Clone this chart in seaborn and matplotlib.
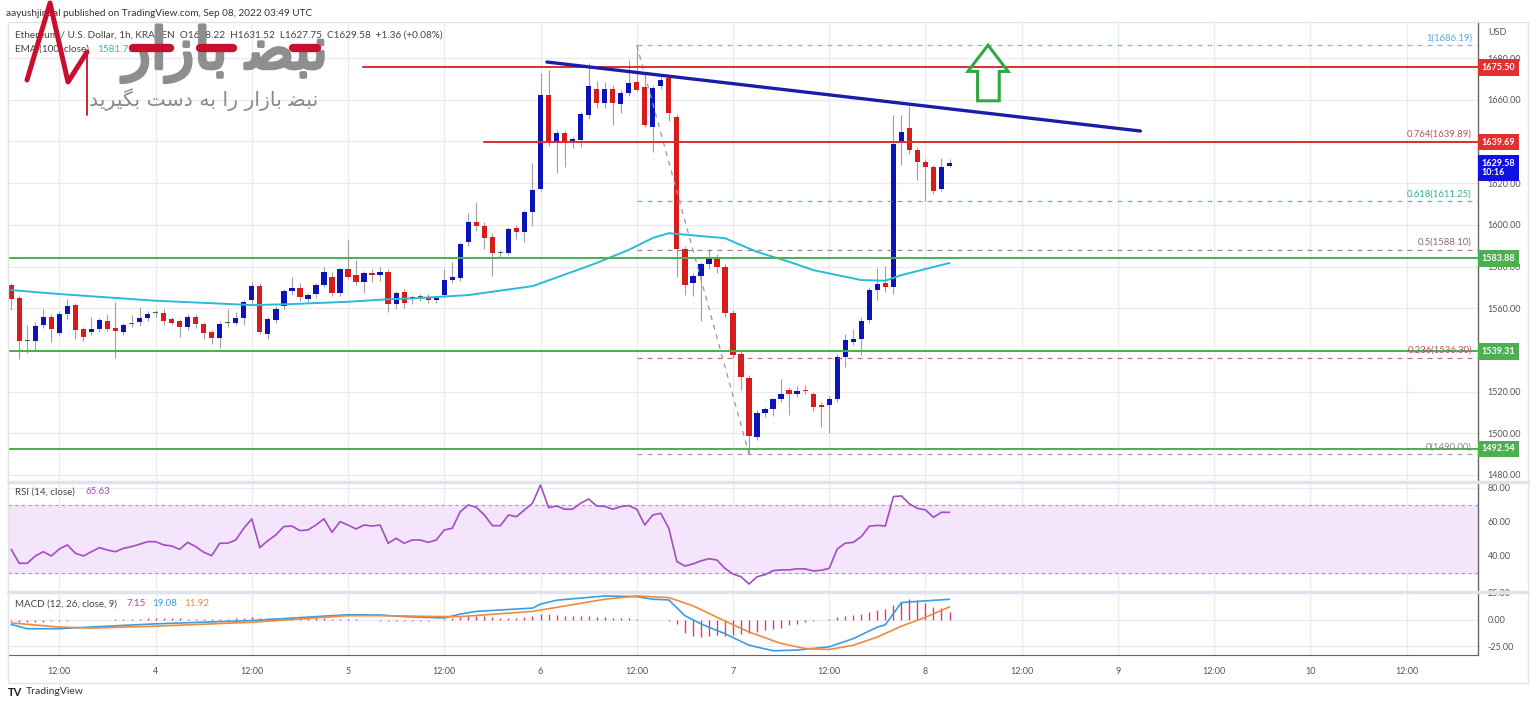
import numpy as np
import matplotlib
matplotlib.use("Agg")
import matplotlib.pyplot as plt
import matplotlib.transforms as mtransforms
import matplotlib.patheffects as pe
from matplotlib.patches import Polygon, Rectangle
from matplotlib.lines import Line2D
import seaborn as sns

W, H = 1536, 708

# ETH/USD 1h candles, Sep 3 06:00 -> Sep 8 03:00 UTC
opens = [1571.1, 1564.8, 1544.3, 1544.3, 1551.8, 1555.9, 1548.1, 1557.0, 1561.5, 1549.9,
         1548.4, 1550.0, 1553.7, 1550.7, 1548.6, 1552.4, 1553.2, 1555.2, 1557.6, 1557.9,
         1555.0, 1553.9, 1550.8, 1555.8, 1552.3, 1548.7, 1545.9, 1552.7, 1553.0, 1555.2,
         1563.9, 1570.6, 1547.6, 1554.3, 1561.0, 1568.2, 1569.5, 1564.6, 1566.7, 1571.1,
         1575.2, 1567.2, 1578.8, 1576.0, 1572.4, 1577.0, 1576.1, 1577.2, 1562.0, 1568.0,
         1564.2, 1565.5, 1565.5, 1564.1, 1566.3, 1573.5, 1574.3, 1591.9, 1601.2, 1599.6,
         1594.3, 1586.6, 1586.6, 1598.3, 1596.7, 1606.3, 1617.2, 1662.3, 1639.9, 1643.9,
         1640.0, 1640.7, 1652.7, 1665.0, 1658.6, 1665.0, 1657.8, 1663.4, 1668.3, 1666.0,
         1647.0, 1666.7, 1670.3, 1651.9, 1588.2, 1572.3, 1575.5, 1581.1, 1584.7, 1579.6,
         1557.6, 1538.0, 1526.4, 1498.1, 1509.9, 1511.5, 1516.3, 1520.6, 1518.9, 1520.8,
         1518.9, 1513.6, 1513.6, 1516.3, 1536.5, 1544.0, 1545.1, 1554.3, 1568.7, 1572.3,
         1570.0, 1640.0, 1646.6, 1635.9, 1630.3, 1627.6, 1617.0, 1628.22]
highs = [1572.0, 1566.5, 1552.0, 1553.5, 1559.6, 1557.0, 1558.5, 1564.4, 1562.5, 1551.0,
         1556.0, 1555.5, 1557.2, 1563.0, 1553.0, 1556.7, 1560.7, 1558.5, 1559.0, 1559.5,
         1556.0, 1555.0, 1557.0, 1557.0, 1553.5, 1549.5, 1554.0, 1559.6, 1558.3, 1564.0,
         1572.5, 1572.0, 1556.0, 1561.0, 1569.0, 1575.0, 1572.0, 1567.5, 1572.0, 1579.6,
         1577.5, 1579.5, 1592.7, 1583.0, 1578.0, 1579.0, 1580.0, 1579.0, 1568.5, 1569.0,
         1566.5, 1567.0, 1567.0, 1566.0, 1579.0, 1582.0, 1592.0, 1605.5, 1610.8, 1601.5,
         1596.0, 1588.0, 1599.0, 1600.0, 1607.0, 1629.5, 1673.0, 1674.2, 1645.5, 1645.0,
         1642.0, 1654.0, 1677.5, 1669.0, 1668.3, 1667.0, 1664.5, 1679.0, 1686.19, 1671.0,
         1666.5, 1671.8, 1671.8, 1653.0, 1590.0, 1577.0, 1582.0, 1588.2, 1586.0, 1581.0,
         1559.0, 1539.5, 1528.0, 1511.0, 1512.5, 1517.0, 1525.9, 1522.0, 1522.5, 1523.0,
         1520.0, 1515.0, 1518.0, 1538.0, 1547.5, 1549.8, 1556.0, 1570.0, 1579.1, 1580.2,
         1652.7, 1652.7, 1657.0, 1637.5, 1631.5, 1628.5, 1631.9, 1631.52]
lows = [1559.0, 1535.5, 1538.4, 1540.0, 1550.5, 1544.0, 1547.0, 1555.0, 1545.0, 1544.5,
        1547.0, 1548.5, 1549.0, 1536.0, 1547.0, 1551.0, 1551.5, 1554.0, 1556.0, 1552.0,
        1552.0, 1546.0, 1549.5, 1550.5, 1545.0, 1543.0, 1541.0, 1551.0, 1552.0, 1552.0,
        1562.0, 1547.5, 1545.0, 1553.0, 1559.5, 1566.5, 1563.5, 1563.0, 1565.0, 1570.0,
        1566.0, 1566.0, 1574.0, 1571.0, 1567.5, 1572.5, 1573.0, 1558.3, 1559.5, 1560.0,
        1562.0, 1563.5, 1562.5, 1562.5, 1565.0, 1572.0, 1573.0, 1590.0, 1597.0, 1588.4,
        1575.4, 1584.5, 1585.5, 1593.0, 1591.6, 1599.6, 1616.0, 1638.0, 1624.7, 1627.6,
        1636.8, 1637.5, 1651.0, 1655.9, 1656.0, 1647.9, 1653.5, 1662.0, 1664.0, 1646.8,
        1635.0, 1665.0, 1650.0, 1575.0, 1566.3, 1565.8, 1554.0, 1579.0, 1577.0, 1556.0,
        1536.0, 1520.8, 1490.0, 1497.0, 1508.0, 1508.3, 1515.0, 1508.8, 1517.5, 1519.0,
        1510.5, 1503.2, 1500.0, 1515.0, 1532.0, 1542.5, 1537.6, 1553.0, 1564.0, 1568.0,
        1566.8, 1628.7, 1634.0, 1621.5, 1611.6, 1615.0, 1616.0, 1627.75]
closes = [1564.3, 1544.3, 1544.3, 1551.5, 1555.9, 1550.0, 1557.0, 1561.0, 1549.5, 1546.1,
          1550.2, 1554.2, 1550.2, 1548.9, 1551.8, 1552.4, 1555.4, 1557.1, 1557.6, 1554.0,
          1553.0, 1550.8, 1555.8, 1552.4, 1548.0, 1545.6, 1552.4, 1552.7, 1555.2, 1563.0,
          1570.8, 1548.6, 1555.0, 1559.8, 1568.2, 1569.5, 1565.5, 1566.3, 1571.1, 1577.2,
          1567.5, 1578.7, 1575.2, 1572.4, 1576.8, 1576.0, 1577.2, 1562.0, 1567.5, 1562.4,
          1565.5, 1565.5, 1564.0, 1565.0, 1573.5, 1574.8, 1590.6, 1601.2, 1599.6, 1593.8,
          1586.3, 1586.6, 1598.0, 1596.7, 1606.0, 1616.7, 1662.3, 1639.9, 1643.9, 1639.9,
          1641.0, 1653.0, 1666.7, 1658.6, 1665.0, 1658.3, 1663.4, 1668.2, 1664.7, 1647.9,
          1665.5, 1669.5, 1653.5, 1588.2, 1571.1, 1575.5, 1581.1, 1584.7, 1579.6, 1557.6,
          1537.6, 1526.9, 1498.7, 1509.6, 1511.5, 1516.3, 1518.9, 1518.9, 1520.5, 1520.2,
          1512.5, 1512.5, 1516.3, 1536.5, 1544.7, 1545.0, 1553.9, 1568.7, 1571.5, 1570.0,
          1638.6, 1644.7, 1635.9, 1630.3, 1627.6, 1616.4, 1627.6, 1629.58]

# EMA(100) read at a few candles
ema_idx = [0, 6, 18, 25, 30, 35, 42, 47, 50, 57, 65, 70, 73, 77, 80, 82, 89, 93, 97, 100, 106, 109, 111, 117]
ema_vals = [1568.7, 1566.8, 1563.6, 1562.4, 1561.5, 1562.0, 1563.1, 1564.3, 1564.7, 1566.3, 1570.6, 1577.5,
            1581.7, 1588.0, 1593.7, 1596.0, 1593.6, 1587.0, 1582.3, 1578.3, 1573.5, 1573.2, 1575.9, 1581.7]

rsi_vals = [43.9, 35.7, 35.7, 40.0, 42.5, 40.0, 44.1, 46.5, 41.6, 40.0,
            42.5, 44.9, 43.5, 42.5, 44.5, 45.5, 46.9, 48.4, 48.4, 46.5,
            45.9, 43.9, 48.0, 45.5, 42.2, 40.2, 47.5, 47.5, 49.4, 56.3,
            61.8, 44.9, 49.0, 52.4, 57.3, 57.6, 54.9, 55.3, 58.2, 61.8,
            53.9, 60.2, 58.2, 55.9, 58.2, 57.6, 58.2, 47.5, 50.4, 47.5,
            49.4, 49.4, 48.0, 49.4, 55.3, 56.3, 66.1, 70.0, 68.6, 64.1,
            57.8, 57.8, 64.1, 63.1, 67.1, 71.0, 81.8, 68.4, 69.4, 67.5,
            67.5, 71.0, 73.5, 69.4, 69.2, 67.5, 69.0, 69.6, 67.5, 58.2,
            64.1, 65.1, 56.3, 36.7, 34.1, 35.3, 37.1, 38.4, 37.6, 32.7,
            29.4, 27.8, 23.5, 27.8, 29.0, 31.4, 31.8, 31.8, 32.5, 32.4,
            31.2, 31.6, 32.7, 44.1, 47.5, 48.0, 51.4, 57.5, 58.0, 57.6,
            74.9, 75.3, 70.6, 68.0, 67.1, 62.7, 65.7, 65.63]

macd_idx = [0, 2, 6, 8, 18, 30, 42, 46, 49, 54, 56, 58, 65, 66, 68, 74, 78, 80, 82, 84, 86, 89,
            92, 95, 98, 102, 105, 108, 109, 111, 114, 117]
macd_vals = [-4.6, -8.6, -8.6, -7.7, -4.0, -0.9, 4.6, 4.3, 2.8, 1.5, 5.2, 7.7, 10.8, 14.5, 18.2, 22.2,
             21.6, 19.1, 18.5, 3.7, -4.0, -13.3, -24.1, -29.3, -28.7, -25.6, -17.9, -7.1, -4.9, 16.0,
             17.6, 19.08]
signal_idx = [0, 6, 10, 18, 30, 42, 46, 54, 56, 65, 74, 78, 82, 85, 88, 92, 96, 99, 102, 105, 108,
              111, 114, 117]
signal_vals = [-3.1, -7.1, -8.0, -6.2, -2.5, 3.7, 3.7, 2.8, 2.8, 7.7, 19.1, 22.2, 20.7, 13.0, 2.2,
               -11.7, -22.5, -27.2, -28.1, -24.1, -16.4, -6.2, 2.2, 11.92]
hist_vals = [-1.5, -2.0, -2.2, -2.0, -1.8, -1.5, -1.2, -1.0, -0.8, -0.6,
             -0.4, -0.2, 0.0, 0.3, 0.5, 0.8, 1.0, 1.2, 1.4, 1.5,
             1.4, 1.2, 1.0, 0.8, 0.6, 0.6, 0.8, 1.0, 1.2, 1.3,
             2.0, 1.5, 1.2, 1.3, 1.5, 1.8, 1.8, 1.5, 1.2, 1.2,
             0.8, 0.8, 0.6, 0.3, -0.3, -0.6, -0.9, -1.6, -1.4, -1.5,
             -1.5, -1.3, -1.0, -0.5, 0.8, 1.2, 2.5, 3.2, 3.2, 3.0,
             2.0, 1.6, 1.8, 1.6, 2.2, 3.2, 5.5, 5.4, 4.3, 3.8,
             3.2, 3.0, 3.4, 2.8, 2.4, 1.8, 1.5, 1.2, 0.6, -0.4,
             -0.2, -0.8, -1.0, -4.5, -13.0, -15.5, -16.0, -15.5, -14.5, -15.0,
             -14.5, -14.0, -13.0, -11.5, -10.0, -8.5, -7.5, -5.5, -4.0, -2.5,
             -1.5, -0.5, 0.8, 2.0, 3.0, 4.0, 5.5, 7.0, 9.0, 10.0,
             14.0, 17.0, 19.5, 18.0, 16.0, 12.0, 10.5, 7.15]

time_ticks = [6, 18, 30, 42, 54, 66, 78, 90, 102, 114, 126, 138, 150, 162, 174]
time_labels = ['12:00', '4', '12:00', '5', '12:00', '6', '12:00', '7', '12:00', '8',
               '12:00', '9', '12:00', '10', '12:00']

# drawn levels
red_levels = [1675.50, 1639.69]
red_starts = [43.9, 58.9]
green_levels = [1583.88, 1539.31, 1492.54]
trend_x = [66.8, 140.8]
trend_y = [1678.1, 1645.0]
fib_ratios = ['1', '0.764', '0.618', '0.5', '0.236', '0']
fib_prices = [1686.19, 1639.89, 1611.25, 1588.10, 1536.30, 1490.00]
fib_colors = ['#5aa9d8', '#b5545a', '#35ad95', '#8c6a6a', '#b5545a', '#8a8a8a']
fib_start = 78
fib_end = 92

sns.set_style("white")
plt.rcParams['font.family'] = ['Lato', 'DejaVu Sans']

fig = plt.figure(figsize=(W / 100, H / 100), dpi=100)


def fx(x):
    return x / W


def fy(y):
    return 1 - y / H


ax = fig.add_axes([fx(8), fy(480), (1478 - 8) / W, (480 - 22) / H])
ax_rsi = fig.add_axes([fx(8), fy(590), (1478 - 8) / W, (590 - 483) / H])
ax_macd = fig.add_axes([fx(8), fy(655), (1478 - 8) / W, (655 - 593) / H])

xlim = (-0.4, 182.9)
grid_c = '#ebebef'
lab_c = '#555555'
for a in (ax, ax_rsi, ax_macd):
    a.set_xlim(*xlim)
    a.set_xticks(time_ticks)
    a.grid(True, color=grid_c, lw=0.9)
    a.set_axisbelow(True)
    for s in ('top', 'left', 'bottom'):
        a.spines[s].set_visible(False)
    a.spines['right'].set_color('#666666')
    a.spines['right'].set_linewidth(1.0)
    a.yaxis.tick_right()
    a.tick_params(axis='both', length=0, labelsize=6.5, labelcolor=lab_c, pad=7)
    a.tick_params(axis='x', labelbottom=False)

# ---------- main price panel ----------
ax.set_ylim(1477.6, 1697.3)
price_ticks = np.arange(1480, 1700, 20)
ax.set_yticks(price_ticks)
# 1640 and 1540 sit under the level tags
ax.set_yticklabels(["" if v in (1640, 1540) else f"{v:.2f}" for v in price_ticks])

k = np.arange(len(opens))
o = np.array(opens)
c = np.array(closes)
up_c, dn_c, doji_c = '#0a14b8', '#d81b1b', '#3b6b3b'
cols = [up_c if cc > oo else (dn_c if cc < oo else doji_c) for oo, cc in zip(o, c)]
ax.vlines(k, lows, highs, color='#a0a0a0', lw=0.8, zorder=3)
body = np.where(np.abs(c - o) < 0.6, 0.6, np.abs(c - o))
ax.bar(k, body, bottom=np.minimum(o, c), width=0.66, color=cols, lw=0, zorder=4)

sns.lineplot(x=ema_idx, y=ema_vals, ax=ax, color='#2bbad6', lw=1.4, legend=False, zorder=5)

for lvl, st in zip(red_levels, red_starts):
    ax.plot([st, xlim[1]], [lvl, lvl], color='#d62f2f', lw=1.4, zorder=6)
for lvl in green_levels:
    ax.axhline(lvl, color='#4caf50', lw=1.4, zorder=6)
ax.plot(trend_x, trend_y, color='#1c1ca8', lw=2.4, zorder=7, solid_capstyle='round')

bt = mtransforms.blended_transform_factory(ax.transAxes, ax.transData)
for r, p, col in zip(fib_ratios, fib_prices, fib_colors):
    if r != '0.764':
        ax.plot([fib_start, xlim[1]], [p, p], color=col, lw=0.9, ls=(0, (4, 4)), alpha=0.8, zorder=5)
    ax.text(0.9958, p + 1.4, f"{r}({p:.2f})", transform=bt, ha='right', va='bottom',
            fontsize=6.8, color=col, zorder=8)
ax.plot([fib_start, fib_end], [fib_prices[0], fib_prices[-1]], color='#999999', lw=0.9,
        ls=(0, (4, 4)), zorder=5)

# green arrow outline
arrow = [(121.8, 1686.2), (124.3, 1673.6), (123.2, 1673.6), (123.2, 1659.5),
         (120.5, 1659.5), (120.5, 1673.6), (119.3, 1673.6)]
ax.add_patch(Polygon(arrow, closed=True, fill=False, ec='#2eaa44', lw=2.2, zorder=8))

ax.text(1.007, 1692.5, 'USD', transform=bt, fontsize=6.5, color=lab_c, va='center', clip_on=False)


def tag(y, txt, color, yoff=0.0):
    ax.text(1.0025, y + yoff, txt, transform=bt, ha='left', va='center', fontsize=6.5,
            fontweight='bold', color='white', linespacing=1.05, clip_on=False, zorder=20,
            bbox=dict(boxstyle='square,pad=0.42', fc=color, ec='none'))


tag(1675.50, '1675.50', '#e03030')
tag(1639.69, '1639.69', '#e03030')
tag(1629.58, '1629.58\n10:16', '#1010e0', yoff=-2.3)
for lvl in green_levels:
    tag(lvl, f"{lvl:.2f}", '#4caf50')

# ---------- RSI panel ----------
ax_rsi.set_ylim(20, 82.9)
ax_rsi.set_yticks([40, 60, 80])
ax_rsi.set_yticklabels(['40.00', '60.00', '80.00'])
ax_rsi.axhspan(30, 70, color='#f4e4fc', zorder=0)
for lvl in (30, 70):
    ax_rsi.axhline(lvl, color='#a898b0', lw=0.8, ls=(0, (3, 3)), zorder=1)
sns.lineplot(x=k, y=rsi_vals, ax=ax_rsi, color='#a44cc2', lw=1.2, legend=False, zorder=5)

# ---------- MACD panel ----------
ax_macd.set_ylim(-33.3, 25)
ax_macd.set_yticks([-25, 0, 25])
ax_macd.set_yticklabels(['-25.00', '0.00', '25.00'])
ax_macd.vlines(k, 0, hist_vals, color='#d83a72', lw=1.0, zorder=3)
sns.lineplot(x=macd_idx, y=macd_vals, ax=ax_macd, color='#3a9ede', lw=1.2, legend=False, zorder=5)
sns.lineplot(x=signal_idx, y=signal_vals, ax=ax_macd, color='#f08a3c', lw=1.2, legend=False, zorder=5)
ax_macd.spines['bottom'].set_visible(True)
ax_macd.spines['bottom'].set_color('#666666')
ax_macd.tick_params(axis='x', labelbottom=True, pad=9)
ax_macd.set_xticklabels(time_labels)

# panel dividers and outer frame
for yy in (481.5, 591.5):
    fig.add_artist(Line2D([fx(8), fx(1528)], [fy(yy)] * 2, color='#e0e3eb', lw=2.5))
fig.add_artist(Rectangle((fx(8), fy(683)), 1520 / W, 661 / H, transform=fig.transFigure,
                         fill=False, ec='#e3e3e3', lw=1))

# ---------- texts ----------
fig.text(fx(6), fy(13), 'aayushjindal published on TradingView.com, Sep 08, 2022 03:49 UTC',
         fontsize=7.2, color='#333333', va='center')
fig.text(fx(15), fy(35), 'Ethereum / U.S. Dollar, 1h, KRAKEN  O1628.22  H1631.52  L1627.75  '
         'C1629.58  +1.36 (+0.08%)', fontsize=7.2, color='#444444', va='center')
fig.text(fx(15), fy(49), 'EMA (100, close)', fontsize=7.2, color='#444444', va='center')
fig.text(fx(97), fy(49), '1581.72', fontsize=7.2, color='#2bbad6', va='center')
fig.text(fx(15), fy(492), 'RSI (14, close)', fontsize=7.0, color='#444444', va='center')
fig.text(fx(85), fy(492), '65.63', fontsize=7.0, color='#a44cc2', va='center')
fig.text(fx(15), fy(604), 'MACD (12, 26, close, 9)', fontsize=7.0, color='#444444', va='center')
fig.text(fx(126), fy(604), '7.15', fontsize=7.0, color='#d83a72', va='center')
fig.text(fx(152), fy(604), '19.08', fontsize=7.0, color='#3a9ede', va='center')
fig.text(fx(184), fy(604), '11.92', fontsize=7.0, color='#f08a3c', va='center')
fig.text(fx(8), fy(692), 'TV', fontsize=8, fontweight='bold', color='#222222', va='center')
fig.text(fx(26), fy(692), 'TradingView', fontsize=7.5, color='#333333', va='center')


# watermark (Persian logo)
def fa(codes):
    return ''.join(chr(v) for v in reversed(codes))


logo_codes = [0xFEE7, 0xFE92, 0xFEC0, 0x20, 0xFE91, 0xFE8E, 0xFEAF, 0xFE8D, 0xFEAD]
slogan_codes = [0xFEE7, 0xFE92, 0xFEC0, 0x20, 0xFE91, 0xFE8E, 0xFEAF, 0xFE8D, 0xFEAD, 0x20,
                0xFEAD, 0xFE8D, 0x20, 0xFE91, 0xFEEA, 0x20, 0xFEA9, 0xFEB3, 0xFE96, 0x20,
                0xFE91, 0xFB95, 0xFBFF, 0xFEAE, 0xFBFE, 0xFEAA]
fig.text(fx(226), fy(54), fa(logo_codes), family='DejaVu Sans', fontsize=41,
         color='#8e8e8e', ha='center', va='center', zorder=30,
         path_effects=[pe.withStroke(linewidth=2.5, foreground='#8e8e8e')])
fig.text(fx(204), fy(100), fa(slogan_codes), family='DejaVu Sans', fontsize=14.7,
         color='#8a8a8a', ha='center', va='center', zorder=30)
fig.add_artist(Line2D([fx(27), fx(50), fx(68), fx(87)], [fy(80), fy(3), fy(82), fy(52)],
                      color='#c8102e', lw=3.6, zorder=31))
fig.add_artist(Line2D([fx(87), fx(87)], [fy(52), fy(115)], color='#c8102e', lw=1.3, zorder=31))
for x0, x1 in ((133, 170), (200, 233), (293, 317)):
    fig.add_artist(Line2D([fx(x0), fx(x1)], [fy(48)] * 2, color='#c8102e', lw=6, zorder=31))

fig.savefig('out.png', dpi=100)
